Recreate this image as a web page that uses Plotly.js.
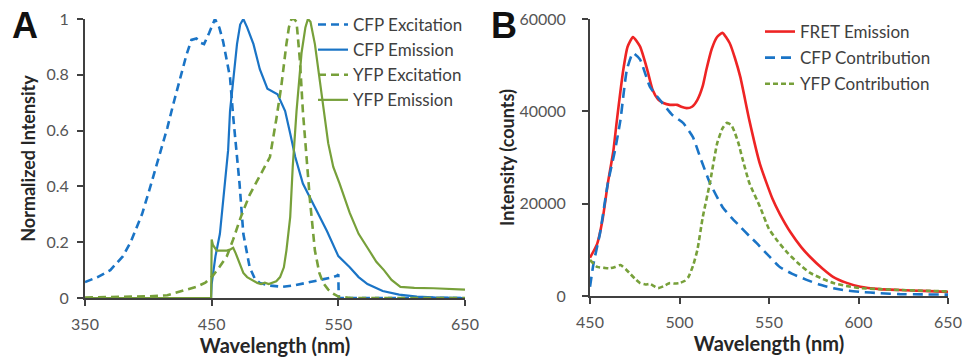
<!DOCTYPE html>
<html><head><meta charset="utf-8">
<script src="https://cdn.plot.ly/plotly-3.0.1.min.js"></script>
<style>html,body{margin:0;padding:0;background:#fff}#chart{width:970px;height:358px}</style>
</head><body><div id="chart"></div>
<script>
// ---- Panel A: normalized spectra ----
const cfpExWl  = [350,360,370,380,386,395,401,408,415,420,425,430,434,438,441,444,448,452.6,456,459,462,464.5,467,470,472,475,480,484,488,495,506,515,527.6,540,546,549,550,550.3,560,600,650];
const cfpExVal = [0.057,0.075,0.10,0.15,0.20,0.30,0.39,0.50,0.61,0.70,0.79,0.87,0.925,0.93,0.915,0.91,0.95,1.0,0.97,0.92,0.85,0.79,0.65,0.505,0.41,0.23,0.11,0.07,0.054,0.045,0.04,0.045,0.057,0.068,0.075,0.08,0.085,0,0,0,0];

const cfpEmWl  = [350,449.5,450,451,453,456.5,460.5,463,464.5,467,470,472.5,475,478,483,488,494,502,508,512,516,522,533,541,550,559,566,573,585,598,612,625,650];
const cfpEmVal = [0,0,0.05,0.09,0.15,0.23,0.41,0.53,0.67,0.79,0.91,0.98,1.0,0.97,0.91,0.82,0.75,0.73,0.67,0.59,0.505,0.41,0.31,0.24,0.15,0.11,0.075,0.05,0.025,0.012,0.005,0.002,0];

const yfpExWl  = [350,380,400,415,423,430,438,445,451,456,462,467,473,480,487,493.6,496,501,505,509,511,513,515,517,519.7,522,525,527.6,531.5,535,538,542,545,550,560,650];
const yfpExVal = [0.002,0.004,0.006,0.01,0.02,0.028,0.04,0.055,0.08,0.11,0.15,0.21,0.29,0.37,0.43,0.49,0.505,0.64,0.76,0.91,0.97,1.0,1.0,0.99,0.85,0.67,0.505,0.35,0.17,0.09,0.054,0.03,0.018,0.005,0,0];

const yfpEmWl  = [350,449.6,450,451,454,458,462,465,467,469,471,473,475,478,480,483,486,489,492,495,498,501,504,507,509,510.5,512,514,517,521,524,526,528,531.5,537,542,546,551,559,566,573,580,586,592,599,610,625,640,650];
const yfpEmVal = [0,0,0.21,0.19,0.17,0.17,0.17,0.175,0.18,0.16,0.135,0.11,0.09,0.075,0.07,0.06,0.054,0.05,0.055,0.05,0.054,0.06,0.075,0.11,0.17,0.23,0.29,0.47,0.67,0.88,0.97,1.0,0.99,0.91,0.73,0.555,0.47,0.41,0.305,0.23,0.18,0.13,0.1,0.065,0.04,0.036,0.035,0.032,0.03];

// ---- Panel B: FRET spectra (counts) ----
const fretWl  = [450,454,457,460,463,465,468.6,471,474,478,482,485,488,491,494.7,498.6,501,504,507,510,513,515,518,521,524,528,531,534,539,545,552,556,562,568,573,580,586,593,601,612,623,636,650];
const fretVal = [8300,11300,16500,24500,31300,38000,49000,54000,56100,54000,49000,44600,42600,41800,41400,41400,41000,40700,41000,42500,45500,49000,53500,56100,57000,54800,51500,47400,38100,28500,21000,17800,13800,10600,8450,5900,4100,2900,2000,1500,1300,1100,900];

const cfpCoWl  = [450,452,455.6,460,464,467,470.6,474,478,483.5,489,496,502,507.5,511.5,517,524,529,534,539,543,550.6,556,563,571,578,586,593,601,612,623,636,650];
const cfpCoVal = [2000,7100,13600,24500,31600,38100,49000,52600,51200,45300,42500,39200,37500,34400,30100,24500,19300,17000,15000,13000,11500,8400,6300,4800,3500,2500,1700,1200,900,600,400,350,300];

const yfpCoWl  = [450,454,458,461,464,467,470,472,475,478,481,483.5,486,488,491,494.7,497,500,503,505,507.5,510,513,517,521,524,526.5,529,531,533,535,539,545,550,555,560,566,573,580,586,593,601,612,623,636,650];
const yfpCoVal = [7800,6300,6100,6000,6300,6700,5800,5000,3800,2800,2500,2600,2100,1700,2100,2800,2700,2800,3300,4100,6500,10000,17100,24500,33000,36300,37500,37000,35300,33000,30000,24500,19300,14500,11800,9500,7200,5000,3700,2800,2200,1700,1500,1300,1150,1000];

const ticksA = [350,450,550,650];
const ticksB = [450,500,550,600,650];

const BLUE = '#1a74c6', GREEN = '#77a03a', RED = '#ee2424';
const AX = '#404040';

const traces = [
  {x: cfpExWl, y: cfpExVal, name: 'CFP Excitation', xaxis:'x', yaxis:'y', legend:'legend', legendgroup:'a1',
   line:{color:BLUE, width:2.6, dash:'8px,5px'}},
  {x: cfpEmWl, y: cfpEmVal, name: 'CFP Emission', xaxis:'x', yaxis:'y', legend:'legend', legendgroup:'a2',
   line:{color:BLUE, width:2.2}},
  {x: yfpExWl, y: yfpExVal, name: 'YFP Excitation', xaxis:'x', yaxis:'y', legend:'legend', legendgroup:'a3',
   line:{color:GREEN, width:2.6, dash:'8px,5px'}},
  {x: yfpEmWl, y: yfpEmVal, name: 'YFP Emission', xaxis:'x', yaxis:'y', legend:'legend', legendgroup:'a4',
   line:{color:GREEN, width:2.2}},
  {x: fretWl, y: fretVal, name: 'FRET Emission', xaxis:'x2', yaxis:'y2', legend:'legend2', legendgroup:'b1',
   line:{color:RED, width:2.6, shape:'spline', smoothing:0.5}},
  {x: cfpCoWl, y: cfpCoVal, name: 'CFP Contribution', xaxis:'x2', yaxis:'y2', legend:'legend2', legendgroup:'b2',
   line:{color:BLUE, width:2.6, dash:'10px,6px', shape:'spline', smoothing:0.5}},
  {x: yfpCoWl, y: yfpCoVal, name: 'YFP Contribution', xaxis:'x2', yaxis:'y2', legend:'legend2', legendgroup:'b3',
   line:{color:GREEN, width:2.6, dash:'5px,3px', shape:'spline', smoothing:0.5}}
].map(t => Object.assign({type:'scatter', mode:'lines', cliponaxis:false}, t));

const tickFont = {family:'Lato, sans-serif', size:16, color:'#555555'};
const xTitleFont = {family:'Lato, sans-serif', size:20, color:'#262626', weight:'bold'};
const yTitleFont = {family:'Lato, sans-serif', size:18, color:'#262626', weight:'bold'};
const legFont = {family:'Lato, sans-serif', size:17, color:'#404040'};

function axisCommon() {
  return {showline:true, linewidth:2, linecolor:AX, ticks:'outside', ticklen:6, tickwidth:2, tickcolor:AX,
          showgrid:false, zeroline:false, tickfont:tickFont, automargin:false, fixedrange:true};
}

const layout = {
  width:970, height:358, margin:{l:0,r:0,t:0,b:0}, paper_bgcolor:'#fff', plot_bgcolor:'#fff',
  showlegend:true,
  xaxis: Object.assign(axisCommon(), {domain:[85/970, 465/970], range:[350,650], tickvals:ticksA,
          ticktext:ticksA.map(String), anchor:'y', ticklabelstandoff:5,
          title:{text:'Wavelength (nm)', font:xTitleFont, standoff:0}}),
  yaxis: Object.assign(axisCommon(), {domain:[1-298/358, 1-19/358], range:[0,1], dtick:0.2, anchor:'x',
          ticklabelstandoff:5, title:{text:'Normalized Intensity', font:yTitleFont, standoff:6}}),
  xaxis2: Object.assign(axisCommon(), {domain:[590/970, 948/970], range:[450,650], tickvals:ticksB,
          ticktext:ticksB.map(String), anchor:'y2', ticklabelstandoff:5,
          title:{text:'Wavelength (nm)', font:xTitleFont, standoff:0}}),
  yaxis2: Object.assign(axisCommon(), {domain:[1-296/358, 1-19/358], range:[0,60000], dtick:20000, tickformat:'d', anchor:'x2',
          ticklabelstandoff:13, title:{text:'Intensity (counts)', font:yTitleFont, standoff:0}}),
  legend: {x:313/970, xanchor:'left', y:1-7/358, yanchor:'top', bgcolor:'rgba(0,0,0,0)',
           font:legFont, tracegroupgap:0, traceorder:'grouped'},
  legend2: {x:760/970, xanchor:'left', y:1-14/358, yanchor:'top', bgcolor:'rgba(0,0,0,0)',
           font:legFont, tracegroupgap:1, traceorder:'grouped'},
  annotations: [
    {text:'<b>A</b>', x:10/970, y:1-3/358, xref:'paper', yref:'paper', xanchor:'left', yanchor:'top', showarrow:false,
     font:{family:'Liberation Sans, Arial, sans-serif', size:36, color:'#111'}},
    {text:'<b>B</b>', x:489/970, y:1-3/358, xref:'paper', yref:'paper', xanchor:'left', yanchor:'top', showarrow:false,
     font:{family:'Liberation Sans, Arial, sans-serif', size:36, color:'#111'}}
  ]
};

Plotly.newPlot('chart', traces, layout, {displayModeBar:false, staticPlot:true});
</script></body></html>
